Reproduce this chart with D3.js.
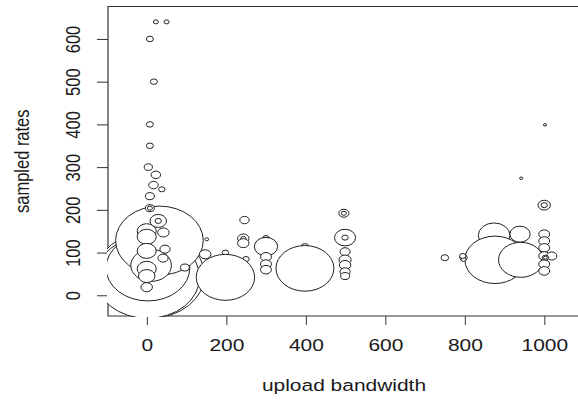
<!DOCTYPE html>
<html>
<head>
<meta charset="utf-8">
<script src="https://cdn.jsdelivr.net/npm/d3@7"></script>
<style>
  body { margin: 0; background: #fff; }
  text { font-family: "Liberation Sans", Arial, sans-serif; fill: #1a1a1a; }
</style>
</head>
<body>
<script>
// bubble data, listed in drawing order (later bubbles cover earlier ones)
const bandwidth = [8, 2, 3, 32,
  11, 0, 0, 0, 0, 0, 0, 42, 46, 41, 29, 29, 96, 147, 151,
  8, 8, 8, 38, 17, 23, 4, 8, 8, 18, 8, 23, 50,
  250, 198, 198, 246, 243, 243, 243, 300, 300, 300, 300, 300, 398, 398,
  496, 496, 499, 499, 499, 499, 499, 499, 499,
  750, 874, 939, 876, 941, 797, 797, 795,
  1000, 1000, 1000, 1000, 1000, 1000, 1019, 1003, 1003, 1000, 1000, 1002, 942];
const rates = [47, 42, 64, 128,
  70, 150, 137, 104, 62, 45, 19, 147, 108, 87, 174, 174, 65, 96, 131,
  204, 204, 232, 248, 258, 282, 300, 350, 400, 500, 600, 640, 640,
  85, 100, 42, 176, 133, 133, 122, 134, 114, 90, 73, 60, 114, 63,
  192, 192, 135, 135, 102, 83, 71, 55, 45,
  88, 140, 143, 83, 83, 88, 84, 92,
  143, 127, 111, 92, 73, 57, 92, 88, 88, 211, 211, 399, 274];
const sizes = [86, 82, 66, 69,
  32, 15, 15, 15, 15, 13, 9, 9, 8, 8, 13, 5, 7, 9, 3,
  7, 4, 7, 5, 7.5, 7.5, 6.5, 5.5, 5.5, 5.5, 5.5, 4, 4,
  5, 5, 46, 7.4, 9, 4, 9, 5, 18.4, 8.6, 8.6, 8.6, 6, 45.6,
  8, 4, 16.6, 5, 8, 9.5, 9, 8, 7,
  6, 25, 16, 47.4, 35, 6, 4, 5,
  8.6, 8.6, 8.6, 8.6, 8.6, 8.6, 8, 5, 3, 9.8, 5, 2.5, 2.5];
const xTicks = [0, 200, 400, 600, 800, 1000];
const yTicks = [0, 100, 200, 300, 400, 500, 600];

const W = 578, H = 401;
const SX = 1.27; // the picture is stretched horizontally
const pLeft = 108 / SX, pRight = 580 / SX, pTop = 6.5, pBottom = 316;

const svg = d3.select('body').append('svg').attr('width', W).attr('height', H);
const g = svg.append('g').attr('transform', `scale(${SX},1)`);

const x = d3.scaleLinear().domain([-97.4, 1090]).range([pLeft, pRight]);
const y = d3.scaleLinear().domain([-48.5, 676]).range([pBottom, pTop]);
const r = d3.scaleLinear().domain([0, 100]).range([0, 50]);

// frame
g.append('rect')
  .attr('x', pLeft).attr('y', pTop)
  .attr('width', pRight - pLeft).attr('height', pBottom - pTop)
  .attr('fill', 'none').attr('stroke', '#333').attr('stroke-width', 1.2)
  .attr('vector-effect', 'non-scaling-stroke');

// x axis
const xa = g.append('g').attr('transform', `translate(0,${pBottom})`)
  .call(d3.axisBottom(x).tickValues(xTicks).tickFormat(d3.format('d')).tickSize(9).tickPadding(14));
xa.select('.domain').remove();
xa.selectAll('line').attr('stroke', '#333').attr('vector-effect', 'non-scaling-stroke');
xa.selectAll('text').attr('font-size', 16.5).attr('fill', '#1a1a1a')
  .style('font-family', '"Liberation Sans", Arial, sans-serif');

// y axis
const ya = g.append('g').attr('transform', `translate(${pLeft},0)`)
  .call(d3.axisLeft(y).tickValues(yTicks).tickFormat(d3.format('d')).tickSize(11 / SX));
ya.select('.domain').remove();
ya.selectAll('line').attr('stroke', '#333').attr('vector-effect', 'non-scaling-stroke');
ya.selectAll('text')
  .attr('transform', 'rotate(-90)')
  .attr('x', 0).attr('y', -22).attr('dy', 0)
  .attr('text-anchor', 'middle')
  .attr('font-size', 16.5).attr('fill', '#1a1a1a')
  .style('font-family', '"Liberation Sans", Arial, sans-serif');

// titles
g.append('text')
  .attr('x', (pLeft + pRight) / 2).attr('y', 391)
  .attr('text-anchor', 'middle').attr('font-size', 16.5)
  .text('upload bandwidth');
g.append('text')
  .attr('transform', `translate(${29 / SX},${(pTop + pBottom) / 2}) rotate(-90)`)
  .attr('text-anchor', 'middle').attr('font-size', 16.5)
  .text('sampled rates');

// bubbles, clipped to the plot region
svg.append('clipPath').attr('id', 'plotclip')
  .append('rect')
  .attr('x', pLeft - 1 / SX).attr('y', pTop - 1)
  .attr('width', pRight - pLeft + 2 / SX).attr('height', pBottom - pTop + 2);

const data = bandwidth.map((b, i) => ({ b: b, v: rates[i], s: sizes[i] }));

g.append('g').attr('clip-path', 'url(#plotclip)')
  .selectAll('circle').data(data).enter()
  .append('circle')
  .attr('cx', d => x(d.b))
  .attr('cy', d => y(d.v))
  .attr('r', d => r(d.s))
  .attr('fill', '#fff')
  .attr('stroke', '#222')
  .attr('stroke-width', 1)
  .attr('vector-effect', 'non-scaling-stroke');
</script>
</body>
</html>
